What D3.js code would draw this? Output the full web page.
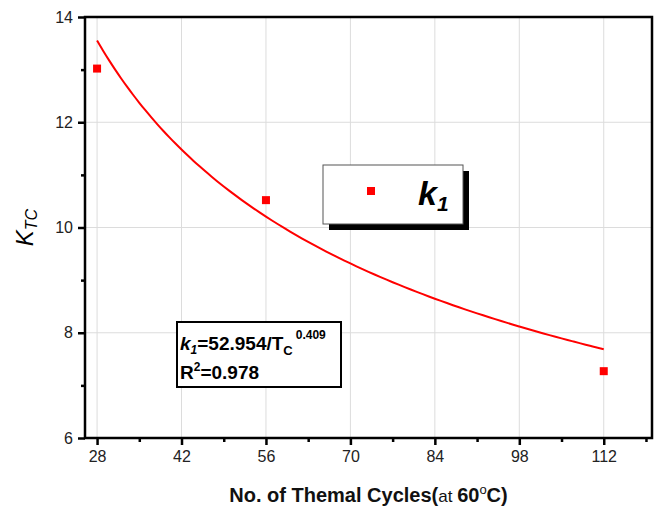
<!DOCTYPE html>
<html>
<head>
<meta charset="utf-8">
<script src="https://cdn.jsdelivr.net/npm/d3@7"></script>
<style>
  body { margin: 0; background: #fff; }
  text { font-family: "Liberation Sans", Arial, sans-serif; }
</style>
</head>
<body>
<div id="chart"></div>
<script>
// Data
const cycles = [28, 56, 112];
const kValues = [13.02, 10.52, 7.27];
const xTicks = [28, 42, 56, 70, 84, 98, 112];
const yTicks = [6, 8, 10, 12, 14];
// Power-law fit shown in the annotation: k1 = a / Tc^b
const fitA = 52.954;
const fitB = 0.409;
const fitRange = [28, 112];

const width = 661;
const height = 506;
const margin = { top: 17, right: 9, bottom: 68, left: 85 };

const svg = d3.select('#chart')
  .append('svg')
  .attr('width', width)
  .attr('height', height);

const x = d3.scaleLinear()
  .domain([26, 120])
  .range([margin.left, width - margin.right]);

const y = d3.scaleLinear()
  .domain([6, 14])
  .range([height - margin.bottom, margin.top]);

// Grid lines
svg.append('g')
  .selectAll('line')
  .data(xTicks)
  .enter()
  .append('line')
  .attr('x1', d => x(d)).attr('x2', d => x(d))
  .attr('y1', y(6)).attr('y2', y(14))
  .attr('stroke', '#dcdcdc')
  .attr('stroke-width', 1);

svg.append('g')
  .selectAll('line')
  .data(yTicks)
  .enter()
  .append('line')
  .attr('x1', x(26)).attr('x2', x(120))
  .attr('y1', d => y(d)).attr('y2', d => y(d))
  .attr('stroke', '#dcdcdc')
  .attr('stroke-width', 1);

// Axes
svg.append('g')
  .attr('transform', `translate(0, ${y(6)})`)
  .call(d3.axisBottom(x).tickValues(xTicks).tickSize(7).tickPadding(6));

svg.append('g')
  .attr('transform', `translate(0, ${y(6)})`)
  .call(d3.axisBottom(x).tickValues(d3.range(35, 120, 14)).tickSize(4).tickFormat(''))
  .call(g => g.select('.domain').remove());

svg.append('g')
  .attr('transform', `translate(${x(26)}, 0)`)
  .call(d3.axisLeft(y).tickValues(yTicks).tickSize(7).tickPadding(5));

svg.append('g')
  .attr('transform', `translate(${x(26)}, 0)`)
  .call(d3.axisLeft(y).tickValues([7, 9, 11, 13]).tickSize(4).tickFormat(''))
  .call(g => g.select('.domain').remove());

svg.selectAll('.tick line').attr('stroke', '#000').attr('stroke-width', 2.5);
svg.selectAll('.domain').remove();
svg.selectAll('.tick text')
  .attr('font-size', 16)
  .attr('fill', '#222');

// Frame
svg.append('rect')
  .attr('x', x(26))
  .attr('y', y(14))
  .attr('width', x(120) - x(26))
  .attr('height', y(6) - y(14))
  .attr('fill', 'none')
  .attr('stroke', '#000')
  .attr('stroke-width', 2.5);

// Fit curve
const fitX = d3.range(fitRange[0], fitRange[1] + 0.5, 1);
const line = d3.line()
  .x(d => x(d))
  .y(d => y(fitA / Math.pow(d, fitB)))
  .curve(d3.curveMonotoneX);

svg.append('path')
  .datum(fitX)
  .attr('d', line)
  .attr('fill', 'none')
  .attr('stroke', '#ff0000')
  .attr('stroke-width', 2);

// Data points
const sq = 8;
svg.append('g')
  .selectAll('rect')
  .data(cycles.map((c, i) => [c, kValues[i]]))
  .enter()
  .append('rect')
  .attr('x', d => x(d[0]) - sq / 2)
  .attr('y', d => y(d[1]) - sq / 2)
  .attr('width', sq)
  .attr('height', sq)
  .attr('fill', '#ff0000');

// Legend with drop shadow
const legend = svg.append('g').attr('transform', 'translate(323, 165)');
legend.append('rect')
  .attr('x', 6).attr('y', 6)
  .attr('width', 140).attr('height', 59)
  .attr('fill', '#000');
legend.append('rect')
  .attr('width', 140).attr('height', 59)
  .attr('fill', '#fff')
  .attr('stroke', '#555')
  .attr('stroke-width', 1);
legend.append('rect')
  .attr('x', 44).attr('y', 22)
  .attr('width', 8).attr('height', 8)
  .attr('fill', '#ff0000');
const legText = legend.append('text')
  .attr('x', 95).attr('y', 40)
  .attr('font-size', 34)
  .attr('font-weight', 'bold')
  .attr('font-style', 'italic');
legText.append('tspan').text('k');
legText.append('tspan').attr('font-size', 21).attr('dy', 6).text('1');

// Equation box
const eq = svg.append('g').attr('transform', 'translate(177, 322)');
eq.append('rect')
  .attr('width', 164).attr('height', 65)
  .attr('fill', '#fff')
  .attr('stroke', '#000')
  .attr('stroke-width', 2);
const eq1 = eq.append('text')
  .attr('x', 3).attr('y', 28)
  .attr('font-size', 19)
  .attr('font-weight', 'bold');
eq1.append('tspan').attr('font-style', 'italic').text('k');
eq1.append('tspan').attr('font-style', 'italic').attr('font-size', 12).attr('dy', 4).text('1');
eq1.append('tspan').attr('dy', -4).text('=52.954/T');
eq1.append('tspan').attr('font-size', 13).attr('dy', 5).text('C');
eq1.append('tspan').attr('font-size', 12).attr('dy', -16).attr('dx', 3).text('0.409');
const eq2 = eq.append('text')
  .attr('x', 3).attr('y', 57)
  .attr('font-size', 19)
  .attr('font-weight', 'bold');
eq2.append('tspan').text('R');
eq2.append('tspan').attr('font-size', 12).attr('dy', -8).text('2');
eq2.append('tspan').attr('dy', 8).text('=0.978');

// Axis titles
const yTitle = svg.append('text')
  .attr('transform', `translate(33, ${(y(6) + y(14)) / 2}) rotate(-90)`)
  .attr('text-anchor', 'middle')
  .attr('font-size', 24)
  .attr('font-style', 'italic');
yTitle.append('tspan').text('K');
yTitle.append('tspan').attr('font-size', 16).attr('dy', 4).text('TC');

const xTitle = svg.append('text')
  .attr('x', (x(26) + x(120)) / 2)
  .attr('y', 502)
  .attr('text-anchor', 'middle')
  .attr('font-size', 20)
  .attr('font-weight', 'bold')
  .attr('fill', '#111');
xTitle.append('tspan').text('No. of Themal Cycles(');
xTitle.append('tspan').attr('font-weight', 'normal').attr('font-size', 17).text('at ');
xTitle.append('tspan').text('60');
xTitle.append('tspan').attr('font-weight', 'normal').attr('font-size', 13).attr('dy', -8).text('o');
xTitle.append('tspan').attr('dy', 8).text('C)');
</script>
</body>
</html>
